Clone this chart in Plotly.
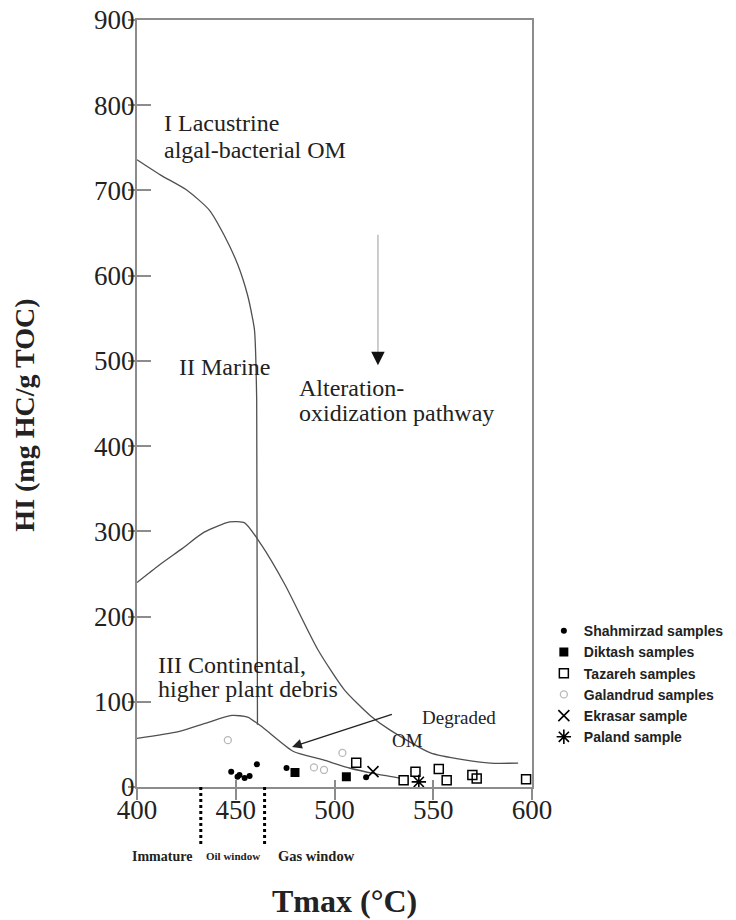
import plotly.graph_objects as go

# ---------------- data ----------------
type1_tmax = [400, 412, 425.5, 436.6, 444, 451, 456, 458.5, 459.5, 460.6, 461]
type1_hi = [736, 718, 700, 677, 648, 613, 577, 550, 536, 454, 73]

type2_tmax = [400, 411, 423, 434, 447, 454.5, 463, 475, 491.6, 505, 518, 528, 548.6, 565, 579, 593]
type2_hi = [240, 260, 280, 299, 311, 310, 284, 237, 161, 114, 84, 67, 40, 32, 28, 28]

type3_tmax = [400, 421, 435, 448, 456, 463.6, 479, 494, 508, 519.6, 533]
type3_hi = [57, 65, 75, 84, 82, 70, 42, 32, 22, 16, 10.5]

shah_tmax = [447.7, 450.9, 451.9, 454.5, 457, 460.7, 475.7, 516]
shah_hi = [18, 12, 14, 10.6, 13, 26.6, 22.3, 11.4]

dikt_tmax = [480, 506]
dikt_hi = [17, 12]

taza_tmax = [511, 535, 541, 552.8, 556.8, 569.8, 572, 597]
taza_hi = [28.5, 8, 18, 21, 8, 14, 10, 9]

gala_tmax = [446, 489.6, 494.7, 504]
gala_hi = [55, 23, 20, 40]

ekra_tmax = [519.5]
ekra_hi = [18]

pala_tmax = [542.7]
pala_hi = [6]

x_ticks = [400, 450, 500, 550, 600]
y_ticks = [0, 100, 200, 300, 400, 500, 600, 700, 800, 900]
window_bounds = [432.3, 464.6]

X_RANGE = [400, 600]
Y_RANGE = [0, 900]

SERIF = "Liberation Serif"
SANS = "Liberation Sans"
CURVE = "#505050"
FRAME = "#8c8c8c"
TXT = "#222"

fig = go.Figure()

for tx, hy in [(type1_tmax, type1_hi), (type2_tmax, type2_hi), (type3_tmax, type3_hi)]:
    fig.add_trace(go.Scatter(x=tx, y=hy, mode="lines",
                             line=dict(color=CURVE, width=1.3, shape="spline", smoothing=0.6),
                             showlegend=False, hoverinfo="skip"))

fig.add_trace(go.Scatter(x=shah_tmax, y=shah_hi, mode="markers", name="Shahmirzad samples",
                         marker=dict(symbol="circle", size=6, color="black")))
fig.add_trace(go.Scatter(x=dikt_tmax, y=dikt_hi, mode="markers", name="Diktash samples",
                         marker=dict(symbol="square", size=9, color="black")))
fig.add_trace(go.Scatter(x=taza_tmax, y=taza_hi, mode="markers", name="Tazareh samples",
                         marker=dict(symbol="square-open", size=9, color="black", line=dict(width=1.5))))
fig.add_trace(go.Scatter(x=gala_tmax, y=gala_hi, mode="markers", name="Galandrud samples",
                         marker=dict(symbol="circle-open", size=7, color="#b8b8b8", line=dict(width=1.3))))
fig.add_trace(go.Scatter(x=ekra_tmax, y=ekra_hi, mode="markers", name="Ekrasar sample",
                         marker=dict(symbol="x-thin-open", size=11, color="black", line=dict(width=1.6))))
fig.add_trace(go.Scatter(x=pala_tmax, y=pala_hi, mode="markers", name="Paland sample",
                         marker=dict(symbol="asterisk-open", size=12, color="black", line=dict(width=1.6))))

# overlay axes so that ticks cross the frame
fig.add_trace(go.Scatter(x=[None], y=[None], xaxis="x2", yaxis="y2", showlegend=False))

annotations = []
def label(text, x, y, size=24):
    annotations.append(dict(x=x, y=y, xref="x", yref="y", text=text, showarrow=False, xanchor="left",
                            yanchor="middle", align="left", font=dict(family=SERIF, size=size, color=TXT)))

label("I Lacustrine", 412.7, 779)
label("algal-bacterial OM", 412.7, 747)
label("II Marine", 420.4, 493)
label("Alteration-", 481, 468)
label("oxidization pathway", 481, 439)
label("III Continental,", 409.7, 143)
label("higher plant debris", 409.7, 115)
label("Degraded", 543.5, 81, 19)
label("OM", 528, 54, 19)

# degraded OM arrow
annotations.append(dict(x=478.5, y=47, ax=529.8, ay=85.7, xref="x", yref="y", axref="x", ayref="y",
                        showarrow=True, arrowhead=2, arrowsize=1.4, arrowwidth=1.4, arrowcolor=TXT, text=""))
# alteration arrow head
annotations.append(dict(x=522, y=495, ax=522, ay=504, xref="x", yref="y", axref="x", ayref="y",
                        showarrow=True, arrowhead=2, arrowsize=1.8, arrowwidth=1.5, arrowcolor="#111", text=""))

def xp(v):
    return (v - X_RANGE[0]) / (X_RANGE[1] - X_RANGE[0])

# axis titles
annotations.append(dict(x=-0.287, y=0.485, xref="paper", yref="paper", text="<b>HI (mg HC/g TOC)</b>",
                        textangle=-90, xanchor="center", yanchor="middle", showarrow=False,
                        font=dict(family=SERIF, size=28, color=TXT)))
annotations.append(dict(x=0.526, y=-0.149, xref="paper", yref="paper", text="<b>Tmax (°C)</b>", xanchor="center",
                        yanchor="middle", showarrow=False, font=dict(family=SERIF, size=32, color=TXT)))

# maturity window labels
annotations.append(dict(x=xp(window_bounds[0]) - 0.018, y=-0.09, xref="paper", yref="paper", text="<b>Immature</b>",
                        xanchor="right", yanchor="middle", showarrow=False, font=dict(family=SERIF, size=14, color=TXT)))
annotations.append(dict(x=(xp(window_bounds[0]) + xp(window_bounds[1])) / 2, y=-0.09, xref="paper", yref="paper",
                        text="<b>Oil window</b>", xanchor="center", yanchor="middle", showarrow=False,
                        font=dict(family=SERIF, size=11, color=TXT)))
annotations.append(dict(x=xp(window_bounds[1]) + 0.028, y=-0.09, xref="paper", yref="paper", text="<b>Gas window</b>",
                        xanchor="left", yanchor="middle", showarrow=False, font=dict(family=SERIF, size=14.5, color=TXT)))

shapes = []
for b in window_bounds:
    shapes.append(dict(type="line", xref="paper", yref="paper", x0=xp(b), x1=xp(b), y0=0, y1=-0.076,
                       line=dict(color="black", width=3, dash="dot")))
# alteration arrow shaft
shapes.append(dict(type="line", xref="x", yref="y", x0=522, x1=522, y0=648, y1=502,
                   line=dict(color="#bdbdbd", width=1.5)))

fig.update_layout(
    width=736, height=920,
    margin=dict(l=137, r=204, t=20, b=133, autoexpand=False),
    paper_bgcolor="white", plot_bgcolor="white",
    showlegend=True,
    legend=dict(x=1.03, y=0.224, xanchor="left", yanchor="top", bgcolor="rgba(0,0,0,0)",
                font=dict(family=SANS, size=14, color=TXT, weight="bold"), tracegroupgap=0, itemwidth=30),
    xaxis=dict(range=X_RANGE, tickvals=x_ticks, ticks="outside", ticklen=11, tickwidth=1.5, tickcolor=FRAME,
               showline=True, linecolor=FRAME, linewidth=2, mirror=True, showgrid=False, zeroline=False,
               tickfont=dict(family=SERIF, size=27, color=TXT), ticklabelstandoff=-13),
    yaxis=dict(range=Y_RANGE, tickvals=y_ticks, ticks="outside", ticklen=7, tickwidth=1.5, tickcolor=FRAME,
               showline=True, linecolor=FRAME, linewidth=2, mirror=True, showgrid=False, zeroline=False,
               tickfont=dict(family=SERIF, size=27, color=TXT), ticklabelstandoff=-12),
    xaxis2=dict(range=X_RANGE, overlaying="x", tickvals=x_ticks, ticks="inside", ticklen=7, tickwidth=1.5,
                tickcolor=FRAME, showticklabels=False, showgrid=False, zeroline=False, showline=False),
    yaxis2=dict(range=Y_RANGE, overlaying="y", tickvals=y_ticks, ticks="inside", ticklen=14, tickwidth=1.5,
                tickcolor=FRAME, showticklabels=False, showgrid=False, zeroline=False, showline=False),
    annotations=annotations,
    shapes=shapes,
)

fig.write_html("out.html", config={"displayModeBar": False},
               post_script="document.body.style.margin='0';")
